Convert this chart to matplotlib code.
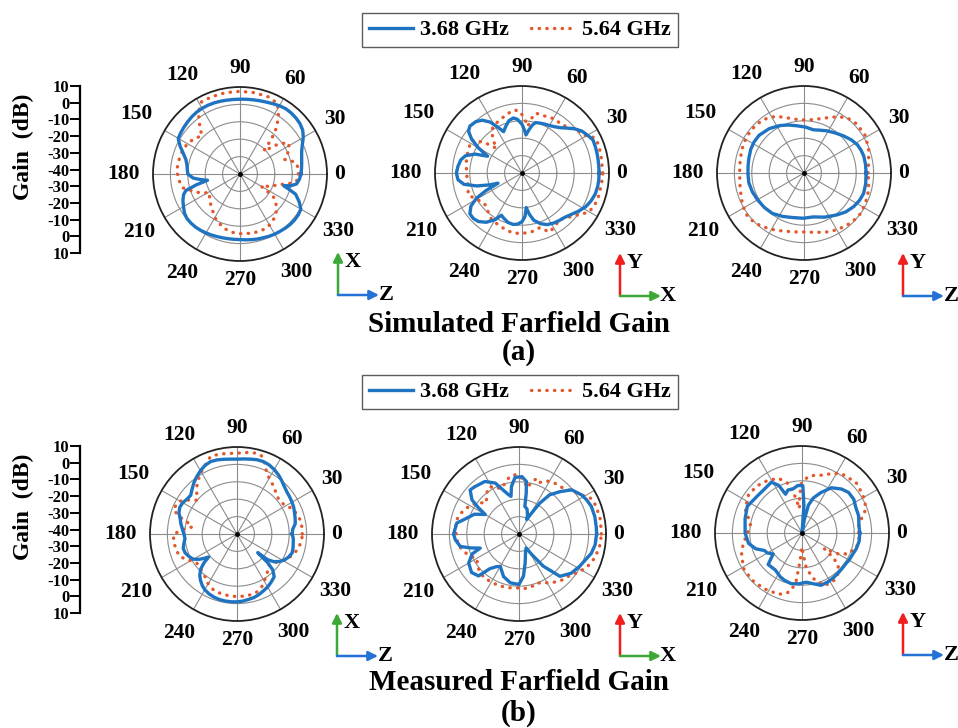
import numpy as np
import matplotlib
matplotlib.use("Agg")
import matplotlib.pyplot as plt
from matplotlib.lines import Line2D

# ---------------- data ----------------
angle_ticks = [0, 30, 60, 90, 120, 150, 180, 210, 240, 270, 300, 330]
gain_scale_labels = ['10', '0', '-10', '-20', '-30', '-40', '-30', '-20', '-10', '0', '10']
freq_labels = ['3.68 GHz', '5.64 GHz']
row_titles = ['Simulated Farfield Gain', 'Measured Farfield Gain']
row_tags = ['(a)', '(b)']

# (a) simulated, XZ plane
sim_xz_368_deg = [0, 5, 10, 15, 20, 25, 30, 35, 40, 45, 50, 55, 60, 65, 70, 75, 80, 85, 90, 95, 100, 105,
                  110, 115, 120, 125, 130, 135, 140, 145, 150, 155, 160, 165, 170, 175, 180, 185, 188, 191,
                  194, 197, 200, 205, 210, 215, 220, 225, 230, 235, 240, 245, 250, 255, 260, 265, 270, 275,
                  280, 285, 290, 295, 300, 305, 310, 315, 320, 325, 330, 335, 340, 343, 345, 347, 350, 355]
sim_xz_368_db = [-5, -4.5, -4, -3.3, -2.3, -0.5, 2, 4, 5, 5.5, 5.8, 5.8, 5.3, 4.6, 4, 3.6, 3.3, 3.1, 3, 3,
                 3.1, 3.3, 3.5, 3.6, 3.6, 3.4, 3, 2.5, 2, 1.5, 1, -2, -5.3, -7.8, -9, -9.6, -10, -13, -17,
                 -21, -14, -7.5, -5.5, -3.8, -2.5, -1, -0.2, -0.1, -0.2, -0.5, -0.9, -1.3, -1.7, -2, -2.2,
                 -2.3, -2.3, -2, -1.7, -1.3, -1, -0.5, -0.1, 0.2, 0.6, 0.9, 1, 0.9, 0.4, -2.5, -6, -11, -14,
                 -10, -7, -5.7]
sim_xz_564_deg = [0, 6, 11, 15, 18, 22, 27, 33, 38, 44, 48, 52, 57, 62, 70, 80, 90, 100, 110, 118, 122, 125,
                  130, 135, 140, 147, 155, 164, 176, 185, 194, 203, 212, 220, 229, 240, 253, 262, 270, 280,
                  289, 296, 303, 310, 316, 322, 326, 330, 334, 339, 344, 348, 353]
sim_xz_564_db = [-6.5, -6.5, -7, -10, -13, -11, -8, -7, -12, -21, -13, -5.5, 0.5, 6, 7.2, 7.5, 7.5, 7.5,
                 7.3, 7, 4, 1.5, -4, -9, -7.5, -5.7, -4.5, -4, -3.6, -4.4, -6.5, -13, -19.5, -17, -15, -11,
                 -7.5, -6.2, -5.7, -5.4, -5.1, -5.5, -6.5, -8.5, -10.7, -14, -17, -26, -24, -20, -18, -12,
                 -7.2]

# (a) simulated, YX plane
sim_yx_368_deg = [0, 5, 10, 15, 20, 25, 30, 35, 40, 45, 50, 55, 60, 65, 70, 75, 78, 81, 84, 87, 90, 95, 99,
                  104, 109, 114, 118, 122, 127, 132, 138, 142, 146, 150, 154, 158, 163, 168, 174, 180, 186,
                  191, 196, 200, 203, 206, 209, 213, 218, 223, 228, 234, 240, 244, 248, 254, 260, 265, 270,
                  274, 277, 280, 284, 290, 296, 302, 308, 314, 320, 326, 332, 338, 344, 350, 355]
sim_yx_368_db = [4.3, 4.3, 4.4, 4.6, 4.8, 5, 3.5, 2, -0.5, -3.5, -6, -7.5, -8.5, -9, -9.5, -10, -12, -15,
                 -18, -15, -12, -9, -8, -9, -11.5, -14, -10, -5.5, -2, -0.3, 0.3, -1, -5, -11, -18, -11, -6,
                 -4, -3, -2.3, -3, -6, -13, -20, -25, -17, -10, -5, -2, -1.7, -2.5, -5, -9, -13, -12, -10.5,
                 -10, -10.5, -12, -15, -20, -16, -12, -9, -7, -6, -5.3, -4.6, -3, -0.8, 1.4, 2.8, 3.8, 4.2,
                 4.3]
sim_yx_564_deg = [0, 10, 20, 26, 31, 38, 45, 51, 58, 67, 77, 80, 83, 87, 92, 97, 104, 113, 119, 125, 131,
                  136, 141, 147, 157, 167, 180, 194, 202, 210, 217, 223, 230, 237, 247, 255, 261, 268, 276,
                  282, 288, 295, 302, 309, 315, 320, 325, 330, 335, 341, 350, 355]
sim_yx_564_db = [6.4, 6.4, 7, 6.4, 2, 0, -2.5, -4.3, -3.5, -4.7, -4.7, -8, -13, -9, -4.5, -3.5, -5, -7, -8,
                 -9.6, -14.6, -19.5, -12, -5.3, -6.4, -7.2, -8.1, -8.1, -6.6, -9.7, -12, -12, -10, -8, -7,
                 -6, -5.2, -5.2, -5.5, -6, -7, -2.5, -4, -5.7, -3.5, -1.7, 1.5, 4.5, 5.5, 6.1, 6, 6.2]

# (a) simulated, YZ plane
sim_yz_368_deg = [0, 8, 16, 22, 28, 35, 43, 52, 62, 70, 78, 88, 99, 108, 117, 128, 140, 148, 156, 165, 173,
                  181, 190, 200, 210, 221, 232, 244, 256, 269, 282, 295, 308, 317, 326, 334, 341, 350]
sim_yz_368_db = [-4.3, -4.3, -4.3, -4.7, -5.3, -6.8, -8.8, -10.8, -12.5, -13.8, -14.6, -13.6, -12.5, -11,
                 -9.4, -7.6, -6.3, -6.2, -6.5, -7.2, -7.6, -7.8, -7.8, -8.4, -9.2, -9.8, -10.5, -12.2,
                 -13.6, -14, -14.2, -12, -9.4, -7.2, -5.5, -4.4, -3.8, -4]
sim_yz_564_deg = [0, 10, 20, 31, 43, 52, 58, 64, 74, 87, 97, 105, 116, 124, 132, 141, 150, 158, 165, 172,
                  180, 190, 198, 206, 215, 222, 229, 237, 244, 252, 262, 271, 281, 291, 300, 309, 316, 324,
                  332, 340, 346, 351]
sim_yz_564_db = [-3.2, -2.3, -0.5, 1.3, 1.4, 0.3, -2, -4.3, -7.6, -9.6, -9, -7.4, -3.7, -2, -1.2, -0.8,
                 -1.2, -1.8, -2.4, -2.8, -3, -2.6, -1.8, -0.5, 0.9, 0.5, -0.5, -2, -3.4, -4.8, -5.8, -6.1,
                 -5.2, -3.7, -2.3, -1.2, -0.5, 0, -0.5, -1.2, -1.8, -2.4]

# (b) measured, XZ plane
meas_xz_368_deg = [0, 5, 10, 15, 20, 25, 30, 35, 40, 45, 50, 55, 60, 65, 70, 75, 80, 85, 90, 95, 100, 105,
                   110, 115, 120, 125, 130, 135, 140, 145, 150, 155, 160, 165, 170, 175, 180, 185, 190, 195,
                   200, 205, 210, 214, 217, 219, 221, 224, 228, 232, 236, 240, 245, 250, 255, 260, 265, 270,
                   275, 280, 285, 290, 295, 300, 305, 311, 315, 317, 318, 320, 323, 327, 331, 336, 341, 346,
                   350, 355]
meas_xz_368_db = [-8.3, -7.8, -6, -5.4, -4.8, -4, -3.5, -3, -2.5, -1.5, 0, 1.5, 2.8, 3.8, 4.3, 4.2, 3.7,
                  3.3, 3, 3.2, 3.6, 4.1, 4.3, 3.5, 2, 0.3, -1.5, -3.5, -5.3, -5, -4, -3.7, -4.5, -6.2, -7.3,
                  -8.5, -9.5, -10, -9, -8, -8.3, -9.5, -11, -14, -17, -19, -15, -11, -8, -6, -4.3, -3, -2,
                  -1.4, -1, -0.9, -0.9, -1, -1.3, -1.8, -2.2, -3, -4, -4.8, -6, -7.4, -11, -16, -24, -17,
                  -13.6, -11, -9, -7.5, -6.5, -6.8, -7.2, -7.5]
meas_xz_564_deg = [0, 6, 12, 18, 23, 28, 33, 38, 43, 48, 52, 57, 61, 64, 68, 72, 76, 80, 85, 90, 95, 100,
                   105, 109, 113, 117, 121, 125, 128, 133, 137, 140, 145, 150, 155, 159, 163, 167, 171, 175,
                   180, 185, 190, 196, 202, 208, 212, 216, 222, 228, 233, 238, 243, 248, 254, 262, 270, 278,
                   284, 289, 294, 298, 303, 307, 312, 316, 321, 325, 331, 336, 341, 346, 352, 356]
meas_xz_564_db = [-2.5, -2.5, -2.6, -3.8, -4.6, -6.5, -8.3, -8.8, -8.5, -7, -5.4, -4.2, -2.5, -1, 3, 6.9,
                  7.8, 7.5, 7, 6.4, 6.5, 6.8, 7, 7, 4.5, 2.5, 0.8, -1.5, -2.8, -6, -8.5, -9.8, -6, -2.3,
                  -1.2, -1, -5, -11, -14, -9, -3.6, -3.4, -3.6, -4, -4.8, -8.4, -10, -11.5, -11, -10.5,
                  -9.4, -7.5, -6, -5, -4.6, -4.2, -4, -4, -4.3, -4.8, -6, -7.7, -10, -11.5, -13, -14.5,
                  -13, -12, -9.2, -7, -5.4, -4, -3, -2.6]

# (b) measured, YX plane
meas_yx_368_deg = [0, 5, 13, 21, 27, 32, 40, 46, 52, 56, 59, 62, 66, 72, 78, 80, 82, 87, 94, 99, 102, 106,
                   110, 115, 123, 133, 138, 144, 147, 150, 156, 163, 170, 180, 185, 192, 196, 200, 203, 210,
                   219, 226, 230, 235, 240, 250, 260, 270, 276, 282, 290, 297, 302, 307, 314, 323, 332, 345,
                   352]
meas_yx_368_db = [4.6, 4.6, 4.7, 4.5, 3.5, 2.4, -0.5, -6.2, -11.4, -18.6, -26, -30.6, -28, -25, -23.8, -16,
                  -9.5, -7, -7.4, -12.3, -17.9, -16, -13, -7.7, -4, -2.8, -2.2, -6.6, -12, -17.6, -12, -8.7,
                  -3.7, -2.4, -3.2, -5.5, -11, -16.3, -10.8, -6.6, -4.9, -6.5, -14, -17, -18.5, -14, -11.5,
                  -11, -15.6, -23, -29, -31, -26, -16.9, -6.2, -2.5, -0.5, 3, 4.2]
meas_yx_564_deg = [0, 10, 20, 26, 31, 38, 46, 55, 62, 68, 72, 76, 80, 85, 90, 95, 100, 106, 112, 118, 124,
                   130, 136, 142, 148, 155, 162, 168, 175, 182, 190, 197, 204, 210, 216, 222, 230, 240, 250,
                   260, 268, 275, 282, 290, 297, 305, 312, 320, 327, 334, 342, 350, 355]
meas_yx_564_db = [7.3, 7.5, 7.1, 6.4, 3, -0.5, -3.4, -4.3, -5.5, -8, -6.4, -9, -13, -9, -6.3, -5.8, -7,
                  -10, -12, -9, -8, -11, -14, -11, -8, -6, -4, -3.2, -3.3, -4, -4.5, -6.5, -9, -12, -10.5,
                  -9, -8, -8, -8.2, -8.6, -9, -8.5, -8.5, -10, -8.5, -6, -4, -2.5, 0.5, 3.5, 5.5, 6.8, 7.1]

# (b) measured, YZ plane
meas_yz_368_deg = [0, 7, 17, 26, 33, 41, 48, 57, 65, 72, 77, 80, 83, 86, 89, 95, 102, 108, 113, 116, 121,
                   131, 140, 154, 166, 180, 191, 199, 205, 210, 216, 223, 234, 244, 250, 258, 267, 275, 283,
                   290, 298, 305, 312, 318, 324, 330, 336, 344, 352]
meas_yz_368_db = [-6.8, -7, -6, -5.7, -4.5, -4.5, -6, -9, -14.4, -18.8, -23.5, -32, -40, -24, -12.8, -12.6,
                  -14.2, -14, -15.8, -9.6, -5.9, -6.8, -6.7, -5, -6.3, -7.3, -8.7, -12, -16.2, -17, -19.5,
                  -13.4, -13.8, -11.8, -11, -10.2, -10.8, -11.6, -10, -8, -8.2, -8.6, -9, -9.2, -9.3, -8.8,
                  -8.5, -7.5, -6.8]
meas_yz_564_deg = [0, 4, 13, 21, 32, 43, 56, 63, 69, 75, 80, 84, 88, 91, 94, 96, 100, 105, 113, 123, 133,
                   144, 157, 165, 170, 176, 183, 190, 199, 211, 223, 236, 249, 255, 259, 263, 266, 270, 273,
                   277, 284, 293, 300, 307, 313, 319, 322, 325, 330, 336, 343, 349, 355]
meas_yz_564_db = [-7.5, -8.1, -5.1, -0.5, 1.3, 2.5, 1, -1.5, -4.3, -5.7, -6.5, -7.5, -10, -11.8, -20,
                  -25.9, -19.6, -10.8, -5.9, -3.9, -2.7, -2.1, -4.5, -8.3, -10, -9.3, -8, -5.7, -3.3, -0.7,
                  -0.5, -1.3, -2.3, -4, -6.1, -11.6, -23.7, -32, -27.9, -19.6, -13, -7.1, -7.1, -7.1, -9.5,
                  -12.4, -18, -24.5, -16, -10.6, -8.8, -6.9, -7.2]

panels = [
    [(sim_xz_368_deg, sim_xz_368_db, sim_xz_564_deg, sim_xz_564_db, ('X', 'Z'), ('#3aa935', '#2472d6')),
     (sim_yx_368_deg, sim_yx_368_db, sim_yx_564_deg, sim_yx_564_db, ('Y', 'X'), ('#f01e1e', '#3aa935')),
     (sim_yz_368_deg, sim_yz_368_db, sim_yz_564_deg, sim_yz_564_db, ('Y', 'Z'), ('#f01e1e', '#2472d6'))],
    [(meas_xz_368_deg, meas_xz_368_db, meas_xz_564_deg, meas_xz_564_db, ('X', 'Z'), ('#3aa935', '#2472d6')),
     (meas_yx_368_deg, meas_yx_368_db, meas_yx_564_deg, meas_yx_564_db, ('Y', 'X'), ('#f01e1e', '#3aa935')),
     (meas_yz_368_deg, meas_yz_368_db, meas_yz_564_deg, meas_yz_564_db, ('Y', 'Z'), ('#f01e1e', '#2472d6'))],
]

# ---------------- style / layout ----------------
W, H = 958, 728
R = 87
BLUE = '#1f74c2'
ORANGE = '#e2582a'
FONT = 'Liberation Serif'
plt.rcParams['font.family'] = [FONT, 'DejaVu Serif']
plt.rcParams['font.weight'] = 'bold'

fig = plt.figure(figsize=(W / 100, H / 100), dpi=100)

centers = [[(240, 174), (522, 173), (804, 173)],
           [(237, 534), (519, 534), (802, 533)]]
label_dist = {0: 1.14, 30: 1.26, 60: 1.26, 90: 1.22, 120: 1.32, 150: 1.37, 180: 1.34,
              210: 1.34, 240: 1.32, 270: 1.22, 300: 1.30, 330: 1.31}
orig = [[(338, 295), (620, 296), (903, 296)],
        [(337, 656), (620, 656), (903, 655)]]


def closed(deg, db):
    th = np.deg2rad(np.array(list(deg) + [deg[0] + 360]))
    r = np.array(list(db) + [db[0]])
    return th, r


for row in range(2):
    for col in range(3):
        cx, cy = centers[row][col]
        ax = fig.add_axes([(cx - R) / W, 1 - (cy + R) / H, 2 * R / W, 2 * R / H], projection='polar')
        ax.set_ylim(-40, 10)
        ax.set_yticks([-30, -20, -10, 0])
        ax.set_yticklabels([])
        ax.set_xticks(np.deg2rad(angle_ticks))
        ax.set_xticklabels([])
        ax.tick_params(length=0)
        ax.grid(color='#8c8c8c', lw=0.8)
        ax.spines['polar'].set_linewidth(1.3)
        ax.spines['polar'].set_color('#222222')
        d1, g1, d2, g2, labs, cols = panels[row][col]
        th, r = closed(d1, g1)
        ax.plot(th, r, color=BLUE, lw=2.4, solid_joinstyle='round', zorder=4)
        th, r = closed(d2, g2)
        ax.plot(th, r, color=ORANGE, lw=2.4, ls=(0, (0.1, 2.2)), dash_capstyle='round', zorder=3)
        ax.plot([0], [-40], 'o', color='k', ms=2.5, zorder=5)
        for a in angle_ticks:
            f = label_dist[a]
            ax.text(0.5 + 0.5 * f * np.cos(np.deg2rad(a)), 0.5 + 0.5 * f * np.sin(np.deg2rad(a)), str(a),
                    transform=ax.transAxes, ha='center', va='center', fontsize=15.5,
                    fontweight='bold', family=FONT)

# overlay in pixel coords for annotations
ov = fig.add_axes([0, 0, 1, 1], facecolor='none')
ov.set_xlim(0, W)
ov.set_ylim(H, 0)
ov.axis('off')

for row in range(2):
    for col in range(3):
        ox, oy = orig[row][col]
        labs, cols = panels[row][col][4], panels[row][col][5]
        ov.annotate('', xy=(ox, oy - 43), xytext=(ox, oy),
                    arrowprops=dict(arrowstyle='-|>', color=cols[0], lw=1.8, mutation_scale=14,
                                    shrinkA=0, shrinkB=0))
        ov.annotate('', xy=(ox + 41, oy), xytext=(ox, oy),
                    arrowprops=dict(arrowstyle='-|>', color=cols[1], lw=1.8, mutation_scale=14,
                                    shrinkA=0, shrinkB=0))
        ov.text(ox + 15, oy - 33, labs[0], ha='center', va='center', fontsize=16, fontweight='bold')
        ov.text(ox + 48, oy, labs[1], ha='center', va='center', fontsize=16, fontweight='bold')

# titles
title_y = [(325, 353), (683, 713)]
for row in range(2):
    ov.text(519, title_y[row][0], row_titles[row], ha='center', va='center', fontsize=21, fontweight='bold')
    ov.text(519, title_y[row][1], row_tags[row], ha='center', va='center', fontsize=21, fontweight='bold')

# legends
legend_y = [30, 392]
for row in range(2):
    h1 = Line2D([], [], color=BLUE, lw=2.4)
    h2 = Line2D([], [], color=ORANGE, lw=2.4, ls=(0, (0.1, 2.2)), dash_capstyle='round')
    leg = fig.legend([h1, h2], freq_labels, loc='center', bbox_to_anchor=(520 / W, 1 - legend_y[row] / H),
                     ncol=2, frameon=True, fancybox=False, edgecolor='#333333', handlelength=2.0,
                     handletextpad=0.3, columnspacing=1.0, borderpad=0.3,
                     prop=dict(family=FONT, weight='bold', size=16))
    leg.get_frame().set_linewidth(1.0)

# gain scale axes
scale_rows = [(86, 253, 147), (446, 613, 507)]
for (ytop, ybot, ylab) in scale_rows:
    sa = fig.add_axes([80 / W, 1 - ybot / H, 0.0001, (ybot - ytop) / H])
    sa.set_ylim(len(gain_scale_labels) - 1, 0)
    sa.set_yticks(range(len(gain_scale_labels)))
    sa.set_yticklabels(gain_scale_labels, fontsize=12, fontweight='bold', family=FONT)
    sa.set_xticks([])
    for s in ['top', 'right', 'bottom']:
        sa.spines[s].set_visible(False)
    sa.spines['left'].set_linewidth(1.6)
    sa.tick_params(axis='y', direction='out', length=7, width=1.4, pad=0.5)
    ov.text(23, ylab, 'Gain  (dB)', rotation=90, ha='center', va='center', fontsize=17, fontweight='bold')

fig.savefig('out.png', dpi=100)
